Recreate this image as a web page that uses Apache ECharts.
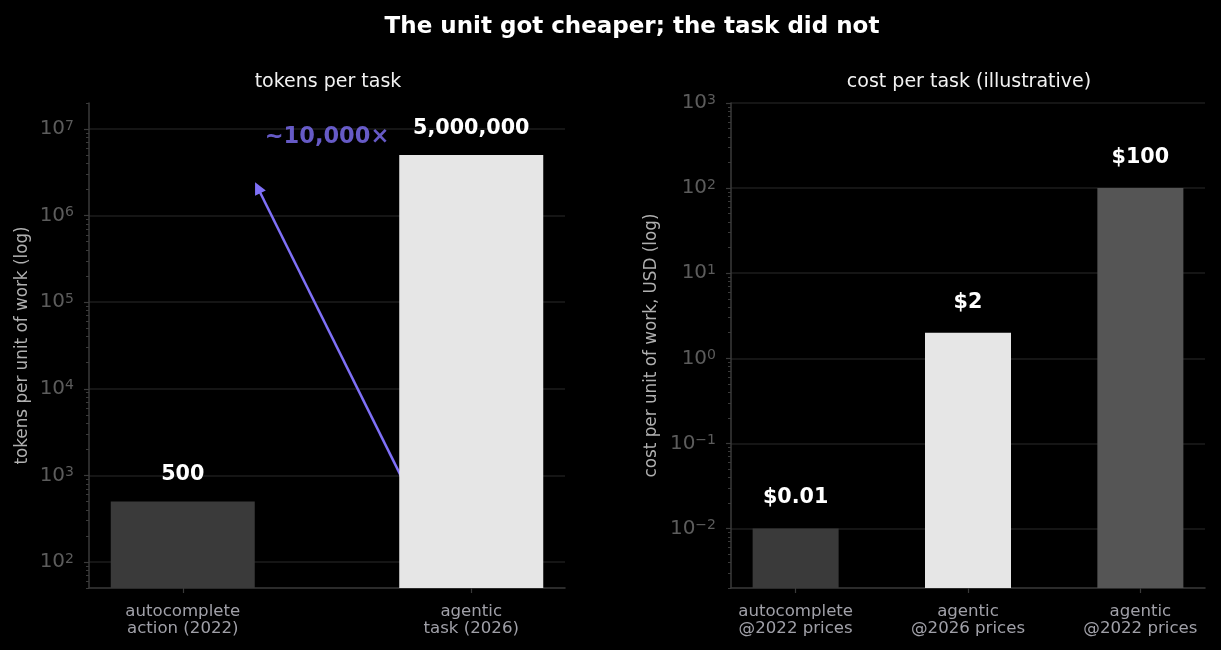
<!DOCTYPE html>
<html><head><meta charset="utf-8">
<script src="https://cdn.jsdelivr.net/npm/echarts@6/dist/echarts.min.js"></script>
<style>html,body{margin:0;padding:0;background:#000}#c{width:1221px;height:650px}</style>
</head><body><div id="c"></div>
<script>
const tokenCats = ['autocomplete\naction (2022)', 'agentic\ntask (2026)'];
const tokenValues = [500, 5000000];
const tokenLabels = ['500', '5,000,000'];
const tokenColors = ['#3a3a3a', '#e6e6e6'];
const costCats = ['autocomplete\n@2022 prices', 'agentic\n@2026 prices', 'agentic\n@2022 prices'];
const costValues = [0.01, 2, 100];
const costLabels = ['$0.01', '$2', '$100'];
const costColors = ['#3a3a3a', '#e6e6e6', '#555555'];
const tokenTicks = [1e2, 1e3, 1e4, 1e5, 1e6, 1e7];
const costTicks = [1e-2, 1e-1, 1e0, 1e1, 1e2, 1e3];
const tokenRange = [50, 2e7];
const costRange = [0.002, 1000];
const arrowFrom = [0.8, 500];
const arrowTo = [0.26, 2.1e6];
const annotPos = [0.5, 8e6];
const annotText = '~10,000×';

const FONT = 'DejaVu Sans';
const AXIS = '#3a3a3a';
const GRIDC = '#1d1d1d';
const TICKC = '#5c5c5c';
const PURPLE = '#7f70f7';

function minorTicks(lo, hi) {
  const out = [];
  for (let e = -4; e <= 8; e++) for (let m = 2; m <= 9; m++) {
    const v = m * Math.pow(10, e);
    if (v >= lo * 0.9999 && v <= hi * 1.0001) out.push(v);
  }
  return out;
}
function supFmt(v) {
  const e = Math.round(Math.log10(v));
  return '10{s|' + (e < 0 ? '\u2212' + (-e) : e) + '}';
}
function majorY(grid, range, ticks, name, gap) {
  return {
    type: 'log', logBase: 10, gridIndex: grid, min: range[0], max: range[1], startValue: range[0], position: 'left',
    name: name, nameLocation: 'middle', nameGap: gap,
    nameTextStyle: { color: '#b0b0b0', fontSize: 16.8, fontFamily: FONT },
    axisLine: { show: true, onZero: false, lineStyle: { color: AXIS, width: 1.5 } },
    axisTick: { show: true, length: 5, customValues: ticks, lineStyle: { color: AXIS, width: 1.2 } },
    minorTick: { show: false },
    splitLine: { show: true, lineStyle: { color: GRIDC, width: 1.5 } },
    axisLabel: {
      customValues: ticks, formatter: supFmt, color: TICKC, fontSize: 20, fontFamily: FONT, margin: 15,
      rich: { s: { fontSize: 14, color: TICKC, fontFamily: FONT, verticalAlign: 'top' } }
    }
  };
}
function minorY(grid, range) {
  return {
    type: 'log', logBase: 10, gridIndex: grid, min: range[0], max: range[1], position: 'left', offset: 0,
    axisLine: { show: false, onZero: false }, axisLabel: { show: false }, splitLine: { show: false },
    axisTick: { show: true, length: 3, customValues: minorTicks(range[0], range[1]), lineStyle: { color: AXIS, width: 1 } }
  };
}
function xAx(grid, cats, lo, hi) {
  const idx = cats.map((c, i) => i);
  return {
    type: 'value', gridIndex: grid, min: lo, max: hi,
    axisLine: { show: true, onZero: false, lineStyle: { color: AXIS, width: 1.5 } },
    axisTick: { show: true, length: 5, customValues: idx, lineStyle: { color: AXIS, width: 1.2 } },
    splitLine: { show: false },
    axisLabel: { customValues: idx, formatter: v => cats[Math.round(v)], color: '#a0a0a8', fontSize: 16.6, lineHeight: 17, fontFamily: FONT, margin: 15 }
  };
}

const chart = echarts.init(document.getElementById('c'));
chart.setOption({
  backgroundColor: '#000',
  animation: false,
  title: [
    { text: 'The unit got cheaper; the task did not', left: 627, textAlign: 'center', top: 11, textStyle: { color: '#fff', fontSize: 23, fontWeight: 'bold', fontFamily: FONT } },
    { text: 'tokens per task', left: 323, textAlign: 'center', top: 68, textStyle: { color: '#f2f2f2', fontSize: 19, fontWeight: 'normal', fontFamily: FONT } },
    { text: 'cost per task (illustrative)', left: 964, textAlign: 'center', top: 68, textStyle: { color: '#f2f2f2', fontSize: 19, fontWeight: 'normal', fontFamily: FONT } }
  ],
  grid: [
    { left: 89, right: 656, top: 103, bottom: 62 },
    { left: 731, right: 16, top: 103, bottom: 62 }
  ],
  xAxis: [xAx(0, tokenCats, -0.325, 1.325), xAx(1, costCats, -0.375, 2.375)],
  yAxis: [
    majorY(0, tokenRange, tokenTicks, 'tokens per unit of work (log)', 58),
    minorY(0, tokenRange),
    majorY(1, costRange, costTicks, 'cost per unit of work, USD (log)', 71),
    minorY(1, costRange)
  ],
  series: [
    {
      type: 'lines', coordinateSystem: 'cartesian2d', xAxisIndex: 0, yAxisIndex: 0, z: 1,
      symbol: ['none', 'triangle'], symbolSize: [9, 12],
      lineStyle: { color: PURPLE, width: 2.5, opacity: 1 },
      data: [{ coords: [arrowFrom, arrowTo] }]
    },
    {
      type: 'bar', xAxisIndex: 0, yAxisIndex: 0, barWidth: 144, z: 3,
      data: tokenValues.map((v, i) => ({ value: [i, v], itemStyle: { color: tokenColors[i] } })),
      label: { show: true, position: 'top', distance: 16, color: '#fff', fontSize: 20.7, fontWeight: 'bold', fontFamily: FONT, formatter: p => tokenLabels[p.dataIndex] }
    },
    {
      type: 'scatter', xAxisIndex: 0, yAxisIndex: 0, symbolSize: 0, z: 4,
      data: [annotPos],
      label: { show: true, position: 'inside', formatter: annotText, color: PURPLE, fontSize: 22.5, fontWeight: 'bold', fontFamily: FONT }
    },
    {
      type: 'bar', xAxisIndex: 1, yAxisIndex: 2, barWidth: 86, z: 3,
      data: costValues.map((v, i) => ({ value: [i, v], itemStyle: { color: costColors[i] } })),
      label: { show: true, position: 'top', distance: 20, color: '#fff', fontSize: 20.7, fontWeight: 'bold', fontFamily: FONT, formatter: p => costLabels[p.dataIndex] }
    }
  ]
});
</script>
</body></html>
